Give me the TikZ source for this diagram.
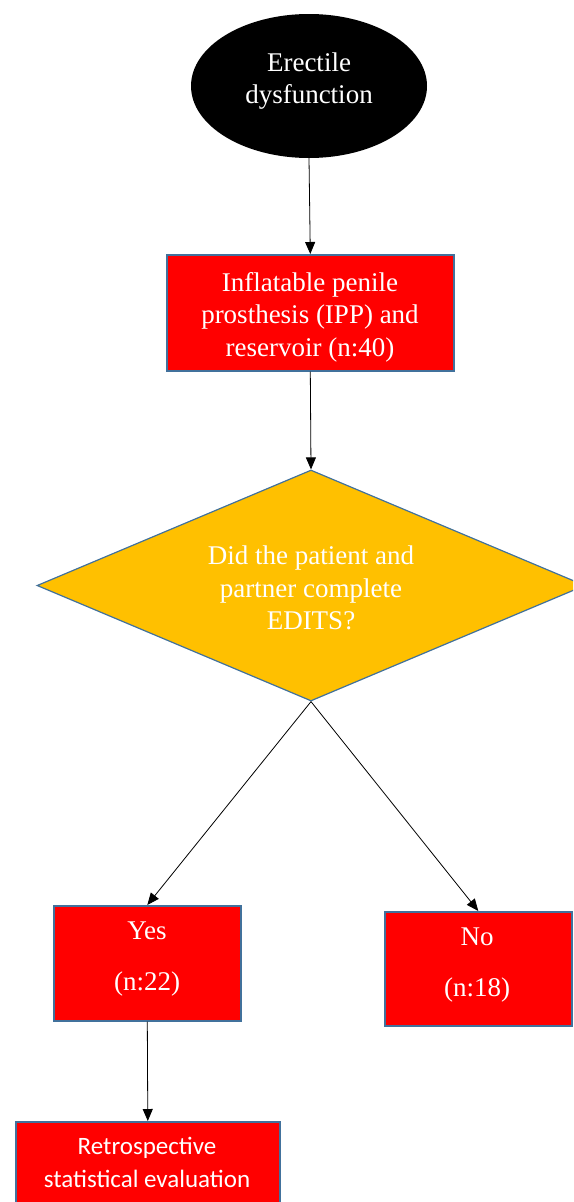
\documentclass[tikz,border=0pt]{standalone}
\usepackage{fontspec}
\setmainfont{Liberation Serif}
\newfontfamily\calfont{Carlito}
\usetikzlibrary{shapes.geometric,arrows.meta}
\definecolor{bordblue}{HTML}{41719C}
\definecolor{boxred}{HTML}{FF0000}
\definecolor{amber}{HTML}{FFC000}
\tikzset{
  redbox/.style={draw=bordblue,line width=1.6pt,fill=boxred,inner sep=0pt,anchor=north west},
  txt/.style={text=white,font=\fontsize{27}{32.5}\selectfont,align=center,inner sep=0pt},
  conn/.style={draw=black,line width=0.8pt,-{Triangle[length=12pt,width=10pt]}},
}
\begin{document}
\begin{tikzpicture}[x=1pt,y=-1pt]
\useasboundingbox (0,0) rectangle (573,1202);
\clip (0,0) rectangle (573,1202);
% ellipse
\node[ellipse,fill=black,inner sep=0pt,minimum width=236pt,minimum height=144pt] (ed) at (309,86) {};
\node[txt] (edt) at (309,81) {Erectile\\dysfunction};
% IPP box
\node[redbox,minimum width=287pt,minimum height=116pt] (ipp) at (166,254) {};
\node[txt] (ippt) at (310,317) {Inflatable penile\\prosthesis (IPP) and\\reservoir (n:40)};
% diamond
\node[diamond,draw=bordblue,line width=1.2pt,fill=amber,inner sep=0pt,minimum width=548pt,minimum height=231pt] (q) at (311,585.5) {};
\node[txt] (qt) at (311,588) {Did the patient and\\partner complete\\EDITS?};
% yes / no
\node[redbox,minimum width=187pt,minimum height=115pt] (yes) at (53,905) {};
\node[txt] (yest) at (147,959) {Yes\\[18pt](n:22)};
\node[redbox,minimum width=187pt,minimum height=114pt] (no) at (384,911) {};
\node[txt] (not) at (477,965) {No\\[18pt](n:18)};
% retrospective
\node[redbox,minimum width=264pt,minimum height=100pt] (ret) at (15,1121) {};
\node[text=white,font=\calfont\fontsize{25}{33}\selectfont,align=center,inner sep=0pt] (rett) at (147,1162) {Retrospective\\statistical evaluation};
% connectors
\draw[conn] (ed.south) -- (ipp.north);
\draw[conn] (ipp.south) -- (q.north);
\draw[conn] (q.south) -- (yes.north);
\draw[conn] (q.south) -- (no.north);
\draw[conn] (yes.south) -- (ret.north);
\end{tikzpicture}
\end{document}
